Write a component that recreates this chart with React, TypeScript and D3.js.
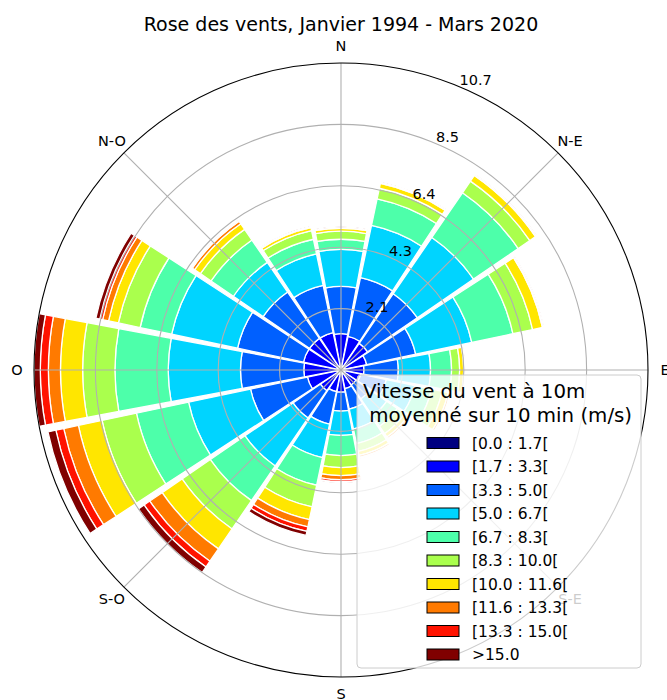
import React from 'react';
import * as d3 from 'd3';

// 16 sectors, clockwise from N
const directions = ['N', 'NNE', 'NE', 'ENE', 'E', 'ESE', 'SE', 'SSE', 'S', 'SSW', 'SW', 'WSW', 'W', 'WNW', 'NW', 'NNW'];
const compassLabels = ['N', 'N-E', 'E', 'S-E', 'S', 'S-O', 'O', 'N-O'];

const speedBins = ['[0.0 : 1.7[', '[1.7 : 3.3[', '[3.3 : 5.0[', '[5.0 : 6.7[', '[6.7 : 8.3[',
  '[8.3 : 10.0[', '[10.0 : 11.6[', '[11.6 : 13.3[', '[13.3 : 15.0[', '>15.0'];
// jet colormap, 10 steps
const binColors = ['#000080', '#0000ff', '#0060ff', '#00d4ff', '#4dffaa', '#aaff4d', '#ffe600', '#ff7a00', '#ff1300', '#800000'];

// frequency (%) per direction for each speed class
const f0_17 = [0.14, 0.14, 0.14, 0.14, 0.14, 0.14, 0.14, 0.14, 0.14, 0.14, 0.14, 0.14, 0.14, 0.14, 0.14, 0.14];
const f17_33 = [1.12, 1.05, 0.98, 0.77, 0.66, 0.56, 0.49, 0.52, 0.63, 0.63, 0.73, 1.05, 1.15, 1.19, 1.19, 1.19];
const f33_50 = [1.64, 2.09, 2.09, 1.74, 1.19, 0.91, 0.59, 0.73, 0.66, 1.15, 1.15, 2.02, 2.20, 2.34, 1.95, 1.67];
const f50_67 = [1.29, 1.85, 2.37, 1.99, 1.12, 1.01, 0.70, 0.70, 0.84, 1.19, 2.02, 2.20, 2.51, 2.34, 1.25, 1.12];
const f67_83 = [0.35, 0.94, 1.88, 1.46, 0.73, 0.59, 0.45, 0.52, 0.70, 0.98, 1.46, 1.85, 1.85, 1.12, 0.94, 0.52];
const f83_100 = [0.28, 0.38, 0.49, 0.70, 0.28, 0.38, 0.31, 0.28, 0.42, 0.77, 1.19, 1.22, 1.12, 0.77, 0.45, 0.31];
const f100_116 = [0.10, 0.17, 0.24, 0.35, 0.14, 0.21, 0.14, 0.14, 0.28, 0.45, 0.84, 0.84, 0.77, 0.35, 0.24, 0.10];
const f116_133 = [0.03, 0.03, 0.03, 0.03, 0.03, 0.07, 0.07, 0.07, 0.14, 0.26, 0.52, 0.52, 0.42, 0.21, 0.10, 0.03];
const f133_150 = [0.01, 0.01, 0.01, 0.01, 0.01, 0.02, 0.02, 0.02, 0.07, 0.16, 0.24, 0.28, 0.28, 0.10, 0.02, 0.01];
const f150 = [0.01, 0.01, 0.01, 0.01, 0.01, 0.02, 0.02, 0.02, 0.03, 0.14, 0.24, 0.28, 0.22, 0.14, 0.02, 0.01];

const series = [f0_17, f17_33, f33_50, f50_67, f67_83, f83_100, f100_116, f116_133, f133_150, f150];

const W = 667;
const H = 700;
const cx = 341;
const cy = 370;
const R = 307;
const font = '"DejaVu Sans", sans-serif';

export default function App() {
  const keys = series.map((_, k) => 'b' + k);
  const rows = directions.map((d, i) => {
    const row: any = { dir: d };
    series.forEach((s, k) => { row['b' + k] = s[i]; });
    return row;
  });
  const stacked = d3.stack().keys(keys)(rows);

  const rmax = d3.max(rows, row => d3.sum(keys, k => row[k])) as number;
  const r = d3.scaleLinear().domain([0, rmax]).range([0, R]);
  const rings = d3.range(1, 6).map(i => rmax * i / 5);
  const fmt = d3.format('.1f');

  const step = (2 * Math.PI) / directions.length;
  const opening = step * 0.94;
  const arc = d3.arc<any>();

  const labelAngle = Math.PI / 8;

  return (
    <svg width={W} height={H} style={{ position: 'absolute', left: 0, top: 0, fontFamily: font }}>
      <rect width={W} height={H} fill="#fff" />
      <text x={cx} y={31} textAnchor="middle" fontSize={19} fill="#000">
        Rose des vents, Janvier 1994 - Mars 2020
      </text>

      <g transform={`translate(${cx},${cy})`}>
        {/* stacked bars */}
        {stacked.map((layer, k) => (
          <g key={k}>
            {layer.map((d, i) => (
              <path
                key={i}
                d={arc({
                  innerRadius: r(d[0]),
                  outerRadius: r(d[1]),
                  startAngle: i * step - opening / 2,
                  endAngle: i * step + opening / 2,
                }) as string}
                fill={binColors[k]}
                stroke="#fff"
                strokeWidth={1.3}
              />
            ))}
          </g>
        ))}

        {/* grid */}
        {rings.slice(0, -1).map((v, i) => (
          <circle key={i} r={r(v)} fill="none" stroke="#b0b0b0" strokeWidth={1.1} />
        ))}
        {compassLabels.map((_, i) => {
          const a = (i * Math.PI) / 4;
          return (
            <line key={i} x1={0} y1={0} x2={R * Math.sin(a)} y2={-R * Math.cos(a)}
              stroke="#b0b0b0" strokeWidth={1.1} />
          );
        })}
        <circle r={R} fill="none" stroke="#000" strokeWidth={1.1} />

        {/* compass labels */}
        {compassLabels.map((lab, i) => {
          const a = (i * Math.PI) / 4;
          return (
            <text key={lab} x={324 * Math.sin(a)} y={-324 * Math.cos(a)} textAnchor="middle"
              dominantBaseline="central" fontSize={14.5} fill="#000">
              {lab}
            </text>
          );
        })}

        {/* radial labels */}
        {rings.map((v, i) => (
          <text key={i} x={r(v) * Math.sin(labelAngle) + 1} y={-r(v) * Math.cos(labelAngle) - 1}
            fontSize={14.5} fill="#000">
            {fmt(v)}
          </text>
        ))}
      </g>

      {/* legend */}
      <g>
        <rect x={357} y={375} width={284} height={293} rx={4} fill="#fff" fillOpacity={0.8}
          stroke="#cccccc" strokeWidth={1} />
        <text x={363} y={398} fontSize={19.8} fill="#000">Vitesse du vent à 10m</text>
        <text x={369.3} y={421.5} fontSize={19.8} fill="#000">moyenné sur 10 min (m/s)</text>
        {speedBins.map((lab, k) => {
          const yc = 443 + k * 23.5;
          return (
            <g key={lab}>
              <rect x={427} y={yc - 5.5} width={32} height={11} fill={binColors[k]} stroke="#000" strokeWidth={1} />
              <text x={472} y={yc + 5.5} fontSize={15.5} fill="#000">{lab}</text>
            </g>
          );
        })}
      </g>
    </svg>
  );
}
